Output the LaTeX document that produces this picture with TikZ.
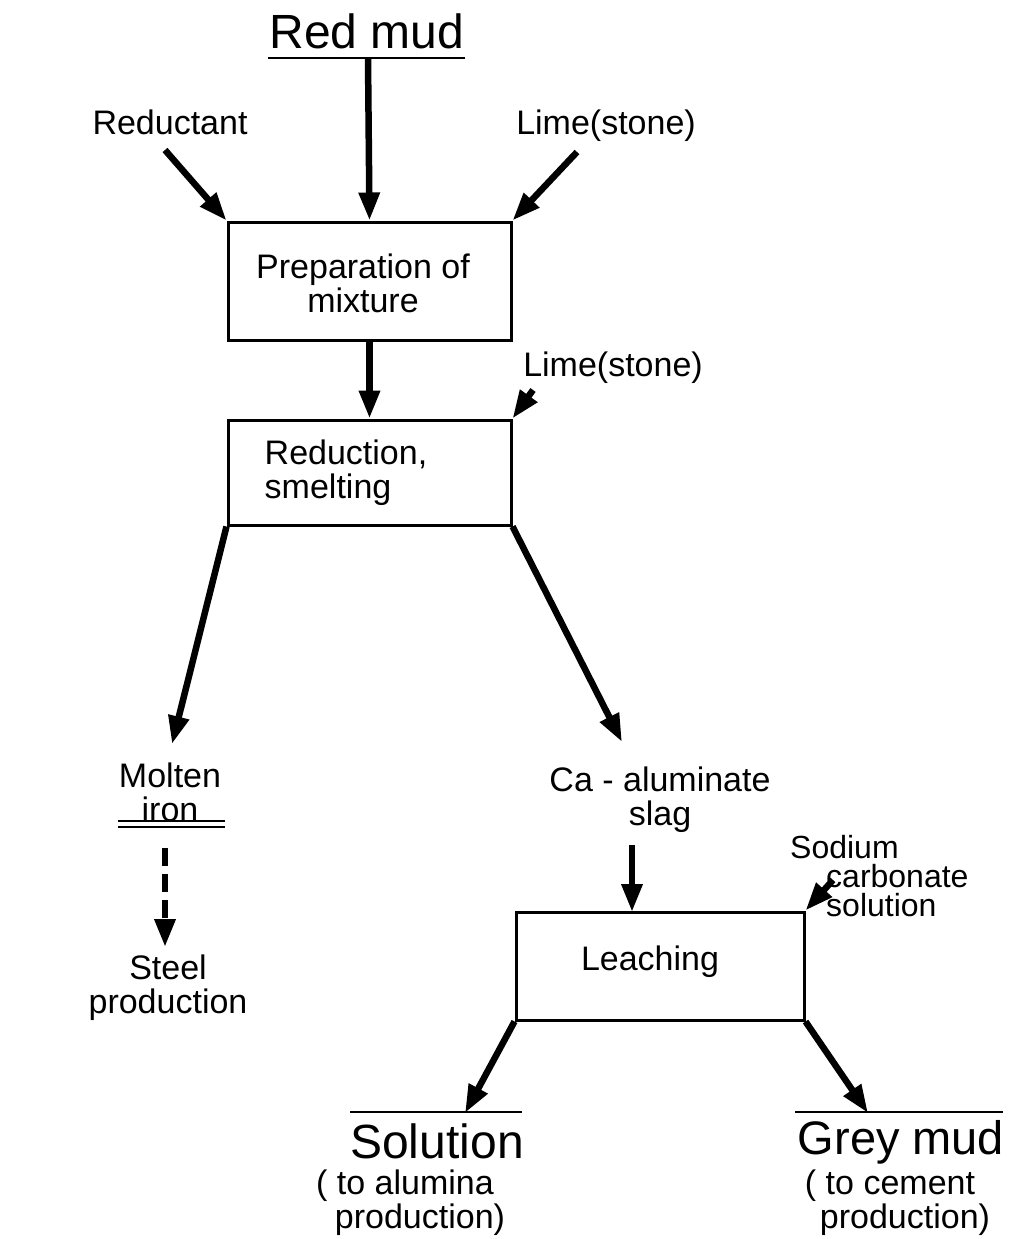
\documentclass[tikz,border=0pt]{standalone}
\usepackage{fontspec}
\setmainfont{Liberation Sans}
\usetikzlibrary{arrows.meta}
\begin{document}
\begin{tikzpicture}[x=1pt,y=-1pt,
  txt/.style={inner sep=0pt,align=center,font=\fontsize{34}{34}\selectfont},
  big/.style={inner sep=0pt,align=center,font=\fontsize{48}{48}\selectfont},
  procbox/.style={draw,line width=3pt,inner sep=0pt},
  flow/.style={line width=6.5pt,-{Triangle[length=28pt,width=20pt]}},
  dflow/.style={flow,dash pattern=on 18pt off 8pt},
  rule/.style={line width=2.4pt}]
\useasboundingbox (0,0) rectangle (1017,1239);
% boxes
\node[procbox,minimum width=283pt,minimum height=118pt] (prep) at (369.5,281) {};
\node[txt] (preptxt) at (363,283) {Preparation of\\mixture};
\node[procbox,minimum width=283pt,minimum height=105pt] (smelt) at (369.5,472.5) {};
\node[txt,align=left] (smelttxt) at (346,473) {Reduction,\\smelting};
\node[procbox,minimum width=288pt,minimum height=108pt] (leach) at (660,966) {};
\node[txt] (leachtxt) at (650,962) {Leaching};
% labels
\node[big] (redmud) at (367,31) {Red mud};
\coordinate (rmL) at (268,58); \coordinate (rmR) at (465,58);
\draw[rule] (rmL) -- (rmR);
\coordinate (rmbot) at (368,58);
\node[txt] (reduct) at (170,122) {Reductant};
\node[txt] (lime1) at (606,126) {Lime(stone)};
\node[txt] (lime2) at (613,368) {Lime(stone)};
\node[txt] (molten) at (170,792) {Molten\\iron};
\node[txt] (steel) at (168,988) {Steel\\production};
\node[txt] (slag) at (660,800) {Ca - aluminate\\slag};
\node[txt,anchor=west,align=left,font=\fontsize{32}{29}\selectfont] (sodium) at (790,876) {Sodium\\\hspace*{36pt}carbonate\\\hspace*{36pt}solution};
\node[big] (solution) at (437,1141) {Solution};
\node[txt] (solsub) at (405,1203) {( to alumina\\\hspace*{30pt}production)};
\node[big,font=\fontsize{47}{47}\selectfont] (grey) at (901,1142) {Grey mud};
\node[txt] (greysub) at (890,1203) {( to cement\\\hspace*{30pt}production)};
% rules
\coordinate (miL1) at (118,821); \coordinate (miR1) at (225,821);
\coordinate (miL2) at (118,827); \coordinate (miR2) at (225,827);
\draw[line width=2pt] (miL1) -- (miR1);
\draw[line width=2pt] (miL2) -- (miR2);
\coordinate (soL) at (350,1112); \coordinate (soR) at (522,1112);
\draw[rule] (soL) -- (soR);
\coordinate (gmL) at (795,1112); \coordinate (gmR) at (1003,1112);
\draw[rule] (gmL) -- (gmR);
% arrow endpoints
\coordinate (redS) at (165,150);
\coordinate (limeS) at (577,152);
\coordinate (lime2S) at (533,390);
\coordinate (ironT) at (172,744);
\coordinate (slagT) at (622,742);
\coordinate (dS) at (165,848); \coordinate (dT) at (165,947);
\coordinate (slagS) at (632,845); \coordinate (leachIn) at (632,912);
\coordinate (sodS) at (833,880);
\coordinate (solT) at (465,1113);
\coordinate (greyT) at (868,1113);
% arrows
\draw[flow] (rmbot) -- (prep.north);
\draw[flow] (redS) -- (prep.north west);
\draw[flow] (limeS) -- (prep.north east);
\draw[flow] (prep.south) -- (smelt.north);
\draw[flow] (lime2S) -- (smelt.north east);
\draw[flow] (smelt.south west) -- (ironT);
\draw[flow] (smelt.south east) -- (slagT);
\draw[dflow] (dS) -- (dT);
\draw[flow] (slagS) -- (leachIn);
\draw[flow] (sodS) -- (leach.north east);
\draw[flow] (leach.south west) -- (solT);
\draw[flow] (leach.south east) -- (greyT);
\end{tikzpicture}
\end{document}
